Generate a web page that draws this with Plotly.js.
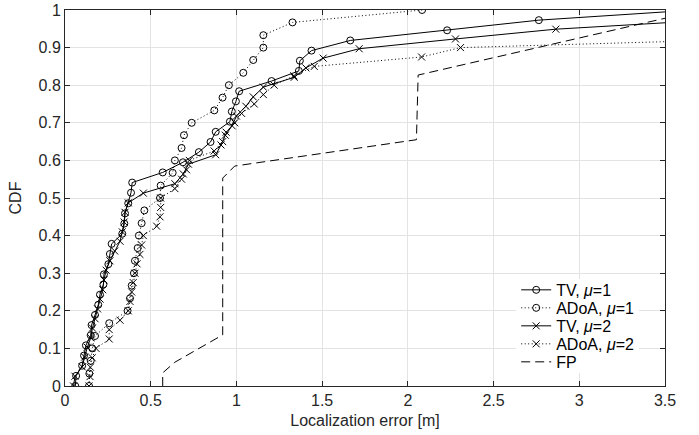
<!DOCTYPE html>
<html>
<head>
<meta charset="utf-8">
<script src="https://cdn.plot.ly/plotly-3.0.1.min.js"></script>
<style>html,body{margin:0;padding:0;background:#fff;}#chart{width:699px;height:435px;}</style>
</head>
<body>
<div id="chart"></div>
<script>
// TV, mu=1
const tv1X = [0.06,0.065,0.10,0.111,0.122,0.150,0.155,0.175,0.194,0.204,0.224,0.227,0.253,0.262,0.272,0.334,0.346,0.350,0.369,0.385,0.392,0.570,0.688,0.781,0.849,0.879,0.962,0.973,0.997,1.016,1.205,1.364,1.370,1.438,1.664,2.229,2.764,3.67];
const tv1Y = [0,0.027,0.054,0.081,0.108,0.135,0.162,0.189,0.216,0.243,0.270,0.297,0.324,0.351,0.378,0.405,0.432,0.459,0.486,0.514,0.541,0.568,0.595,0.622,0.649,0.676,0.703,0.730,0.757,0.784,0.811,0.838,0.865,0.892,0.919,0.946,0.973,1.0];
// ADoA, mu=1
const ad1X = [0.140,0.142,0.150,0.159,0.175,0.258,0.365,0.379,0.389,0.402,0.408,0.424,0.431,0.447,0.463,0.554,0.558,0.628,0.641,0.680,0.694,0.739,0.871,0.919,0.956,1.040,1.098,1.157,1.157,1.327,2.083];
const ad1Y = [0,0.033,0.067,0.1,0.133,0.167,0.2,0.233,0.267,0.3,0.333,0.367,0.4,0.433,0.467,0.5,0.533,0.567,0.6,0.633,0.667,0.7,0.733,0.767,0.8,0.833,0.867,0.9,0.933,0.967,1.0];
// TV, mu=2
const tv2X = [0.05,0.058,0.10,0.115,0.13,0.15,0.16,0.175,0.19,0.205,0.22,0.227,0.24,0.262,0.29,0.321,0.334,0.345,0.35,0.369,0.457,0.641,0.69,0.72,0.879,0.91,0.935,0.975,1.0,1.055,1.098,1.157,1.337,1.405,1.506,1.716,2.278,2.863,3.8,4.4];
const tv2Y = [0,0.026,0.051,0.077,0.103,0.128,0.154,0.179,0.205,0.231,0.256,0.282,0.308,0.333,0.359,0.385,0.410,0.436,0.462,0.487,0.513,0.538,0.564,0.590,0.615,0.641,0.667,0.692,0.718,0.744,0.769,0.795,0.821,0.846,0.872,0.897,0.923,0.949,0.974,1.0];
// ADoA, mu=2
const ad2X = [0.140,0.146,0.148,0.159,0.181,0.258,0.258,0.321,0.369,0.379,0.389,0.398,0.408,0.420,0.437,0.447,0.457,0.535,0.554,0.558,0.558,0.641,0.680,0.709,0.725,0.870,0.920,0.940,0.990,1.030,1.104,1.157,1.220,1.335,1.454,2.080,2.307,4.2,4.6,5.0,5.5];
const ad2Y = [0,0.025,0.05,0.075,0.1,0.125,0.15,0.175,0.2,0.225,0.25,0.275,0.3,0.325,0.35,0.375,0.4,0.425,0.45,0.475,0.5,0.525,0.55,0.575,0.6,0.625,0.65,0.675,0.7,0.725,0.75,0.775,0.8,0.825,0.85,0.875,0.9,0.925,0.95,0.975,1.0];
// FP
const fpX = [0.57,0.57,0.64,0.92,0.92,0.99,2.05,2.06,3.5,3.72];
const fpY = [0,0.035,0.063,0.136,0.553,0.585,0.655,0.827,0.978,1.0];

const xTicks = [0,0.5,1,1.5,2,2.5,3,3.5];
const xTickText = ["0","0.5","1","1.5","2","2.5","3","3.5"];
const yTicks = [0,0.1,0.2,0.3,0.4,0.5,0.6,0.7,0.8,0.9,1];
const yTickText = ["0","0.1","0.2","0.3","0.4","0.5","0.6","0.7","0.8","0.9","1"];

const names = ["TV, <i>μ</i>=1","ADoA, <i>μ</i>=1","TV, <i>μ</i>=2","ADoA, <i>μ</i>=2","FP"];

const FONT = "Liberation Sans, Arial, Helvetica, sans-serif";
const INK = "#262626";

const dotted = "1px,2.5px";
const traces = [
  {x: tv1X, y: tv1Y, name: names[0], mode: "lines+markers",
   line: {color: "#000", width: 1},
   marker: {symbol: "circle-open", size: 7, color: "#000", line: {width: 1, color: "#000"}}},
  {x: ad1X, y: ad1Y, name: names[1], mode: "lines+markers",
   line: {color: "#000", width: 1, dash: dotted},
   marker: {symbol: "circle-open", size: 7, color: "#000", line: {width: 1, color: "#000"}}},
  {x: tv2X, y: tv2Y, name: names[2], mode: "lines+markers",
   line: {color: "#000", width: 1},
   marker: {symbol: "x-thin-open", size: 7, color: "#000", line: {width: 1, color: "#000"}}},
  {x: ad2X, y: ad2Y, name: names[3], mode: "lines+markers",
   line: {color: "#000", width: 1, dash: dotted},
   marker: {symbol: "x-thin-open", size: 7, color: "#000", line: {width: 1, color: "#000"}}},
  {x: fpX, y: fpY, name: names[4], mode: "lines",
   line: {color: "#000", width: 1, dash: "9px,5px"}}
];

const axisBase = {
  showgrid: true, gridcolor: "#e3e3e3", gridwidth: 1,
  showline: true, linecolor: INK, linewidth: 1, mirror: "ticks",
  ticks: "inside", ticklen: 5, tickcolor: INK, tickwidth: 1,
  zeroline: false, tickfont: {family: FONT, size: 16, color: INK},
  fixedrange: true
};

const layout = {
  width: 699, height: 435,
  margin: {l: 65, r: 34, t: 10, b: 49, pad: 0},
  paper_bgcolor: "#fff", plot_bgcolor: "#fff",
  font: {family: FONT, size: 16, color: INK},
  xaxis: Object.assign({}, axisBase, {
    range: [0, 3.5], tickmode: "array", tickvals: xTicks, ticktext: xTickText,
    title: {text: "Localization error [m]", font: {family: FONT, size: 16, color: INK}, standoff: 6}
  }),
  yaxis: Object.assign({}, axisBase, {
    range: [0, 1], tickmode: "array", tickvals: yTicks, ticktext: yTickText,
    title: {text: "CDF", font: {family: FONT, size: 16, color: INK}, standoff: 12}
  }),
  showlegend: true,
  legend: {
    x: 0.752, y: 0.285, xanchor: "left", yanchor: "top",
    bgcolor: "#fff", borderwidth: 0,
    font: {family: FONT, size: 16, color: "#000"},
    tracegroupgap: 0, itemwidth: 30
  }
};

Plotly.newPlot("chart", traces, layout, {staticPlot: true, displayModeBar: false}).then(function () {
  // tighten legend row spacing to match the reference
  const rows = document.querySelectorAll(".legend .traces");
  rows.forEach(function (r, i) {
    r.setAttribute("transform", "translate(0," + (11 + i * 18) + ")");
  });
  const bg = document.querySelector(".legend .bg");
  if (bg) bg.setAttribute("height", String(5 * 18 + 4));
});
</script>
</body>
</html>
